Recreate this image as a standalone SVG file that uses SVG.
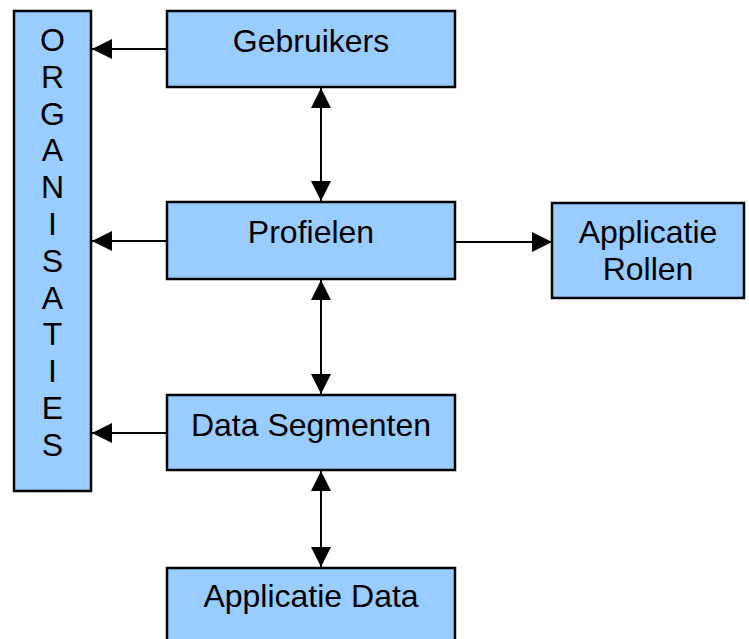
<svg xmlns="http://www.w3.org/2000/svg" width="749" height="639" viewBox="0 0 749 639">
<style>
.box{fill:#99CCFF;stroke:#000;stroke-width:2.5}
.t{font-family:"Liberation Sans",Arial,sans-serif;font-size:32px;fill:#000;text-anchor:middle}
.c{stroke:#000;stroke-width:2;fill:none}
</style>
<defs>
<marker id="ah" viewBox="0 0 20 20" refX="20" refY="10" markerWidth="20" markerHeight="20" markerUnits="userSpaceOnUse" orient="auto-start-reverse">
<path d="M0,0 L20,10 L0,20 Z" fill="#000"/>
</marker>
</defs>
<rect width="749" height="639" fill="#fff"/>
<g id="organisaties">
<rect class="box" x="14" y="11" width="77" height="480"/>
<text class="t" x="52.5" y="51">O</text>
<text class="t" x="52.5" y="88">R</text>
<text class="t" x="52.5" y="125">G</text>
<text class="t" x="52.5" y="161">A</text>
<text class="t" x="52.5" y="198">N</text>
<text class="t" x="52.5" y="235">I</text>
<text class="t" x="52.5" y="272">S</text>
<text class="t" x="52.5" y="309">A</text>
<text class="t" x="52.5" y="345">T</text>
<text class="t" x="52.5" y="382">I</text>
<text class="t" x="52.5" y="419">E</text>
<text class="t" x="52.5" y="456">S</text>
</g>
<g id="gebruikers">
<rect class="box" x="167" y="11" width="288" height="76"/>
<text class="t" x="311" y="52">Gebruikers</text>
</g>
<g id="profielen">
<rect class="box" x="167" y="202" width="288" height="77"/>
<text class="t" x="311" y="243">Profielen</text>
</g>
<g id="applicatie-rollen">
<rect class="box" x="552" y="203" width="192" height="95"/>
<text class="t" x="648" y="243">Applicatie</text>
<text class="t" x="648" y="280">Rollen</text>
</g>
<g id="data-segmenten">
<rect class="box" x="167" y="395" width="288" height="75"/>
<text class="t" x="311" y="436">Data Segmenten</text>
</g>
<g id="applicatie-data">
<rect class="box" x="167" y="568" width="288" height="80"/>
<text class="t" x="311" y="607">Applicatie Data</text>
</g>
<g id="connectors">
<line class="c" x1="167" y1="49" x2="92" y2="49" marker-end="url(#ah)"/>
<line class="c" x1="167" y1="241" x2="92" y2="241" marker-end="url(#ah)"/>
<line class="c" x1="167" y1="433" x2="92" y2="433" marker-end="url(#ah)"/>
<line class="c" x1="455" y1="242" x2="552" y2="242" marker-end="url(#ah)"/>
<line class="c" x1="321" y1="88" x2="321" y2="201" marker-start="url(#ah)" marker-end="url(#ah)"/>
<line class="c" x1="321" y1="280" x2="321" y2="394" marker-start="url(#ah)" marker-end="url(#ah)"/>
<line class="c" x1="321" y1="471" x2="321" y2="567" marker-start="url(#ah)" marker-end="url(#ah)"/>
</g>
</svg>
